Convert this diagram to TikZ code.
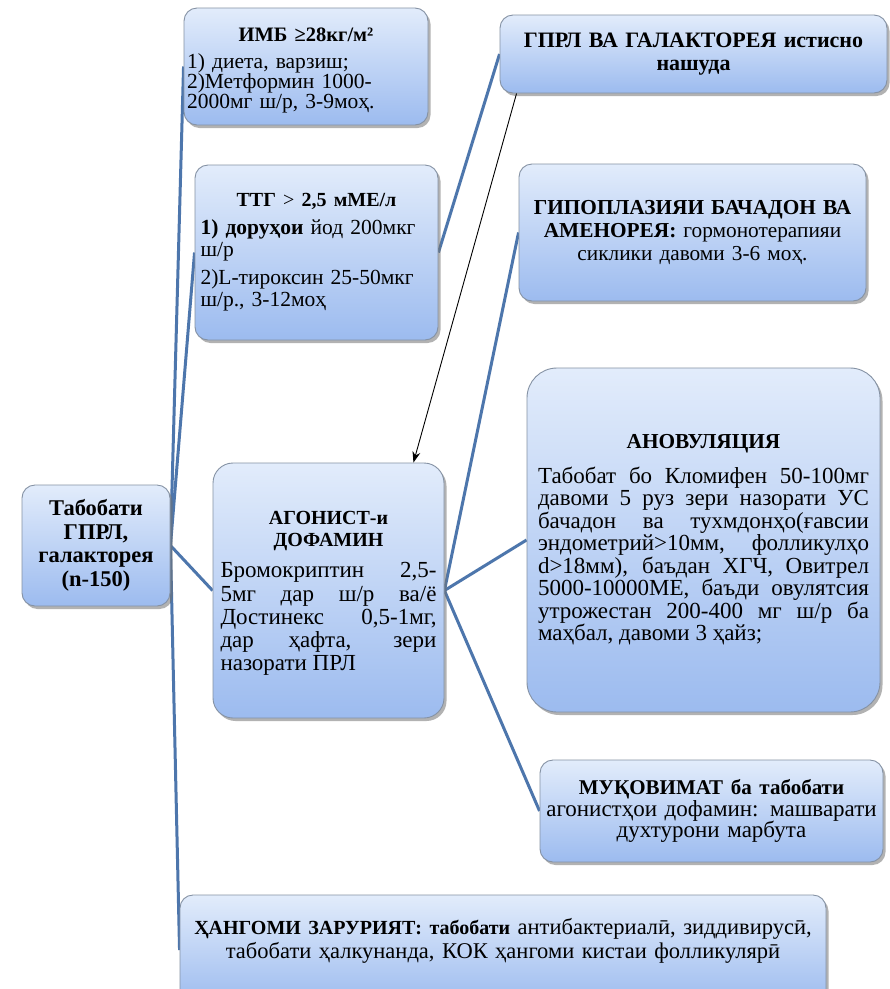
\documentclass[tikz,border=0pt]{standalone}
\usepackage{fontspec}
\setmainfont{Liberation Serif}
\usetikzlibrary{shadows,arrows.meta,backgrounds}
\definecolor{boxtop}{HTML}{E2ECFB}
\definecolor{boxbot}{HTML}{9CBBEF}
\definecolor{boxline}{HTML}{8592A4}
\definecolor{conn}{HTML}{4D76AC}
\newcommand{\padtop}[1]{\hrule height0pt\vspace{#1}}
\newcommand{\padbot}[1]{\par\vspace{#1}\hrule height0pt}
\tikzset{
  box/.style={draw=boxline, line width=0.9pt, rounded corners=13pt,
    top color=boxtop, bottom color=boxbot,
    drop shadow={shadow xshift=2.5pt, shadow yshift=-3pt, fill=black!55, opacity=0.55},
    inner sep=3pt, anchor=center},
  link/.style={draw=conn, line width=3pt},
}
\begin{document}
\begin{tikzpicture}[x=1pt,y=-1pt]
\useasboundingbox (0,0) rectangle (890,989);

% boxes
\node[box, minimum width=244pt, minimum height=117pt, text width=238pt, align=left,
  font={\fontsize{21.5}{20}\selectfont}] (imb) at (306,66.5)
  {\padtop{8pt}{\centering\fontsize{20.5}{20}\selectfont\bfseries ИМБ ≥28кг/м²\par}\vspace{7pt}%
   1) диета, варзиш;\\2)Метформин 1000-\\2000мг ш/р, 3-9моҳ.};

\node[box, minimum width=243pt, minimum height=175pt, text width=232pt, align=left,
  font={\fontsize{21.5}{22.5}\selectfont}] (ttg) at (316.5,252.5)
  {{\centering\fontsize{20}{22}\selectfont\textbf{ТТГ} > \textbf{2,5 мМЕ/л}\par}\vspace{5pt}%
   \textbf{1) доруҳои} йод 200мкг\\ш/р\par\vspace{5pt}%
   2)L-тироксин 25-50мкг\\ш/р., 3-12моҳ};

\node[box, minimum width=387pt, minimum height=78pt, text width=372pt, align=center,
  font={\fontsize{22}{23}\selectfont\bfseries}] (gprl) at (693.5,54)
  {ГПРЛ ВА ГАЛАКТОРЕЯ истисно\\нашуда};

\node[box, minimum width=347pt, minimum height=137pt, text width=337pt, align=center,
  font={\fontsize{21.3}{23}\selectfont}] (gipo) at (692.5,232.5)
  {\textbf{ГИПОПЛАЗИЯИ БАЧАДОН ВА}\\\textbf{АМЕНОРЕЯ:} гормонотерапияи\\сиклики давоми 3-6 моҳ.};

\node[box, minimum width=148pt, minimum height=121pt, text width=142pt, align=center,
  font={\fontsize{22.5}{23.5}\selectfont\bfseries}] (root) at (96,545.5)
  {Табобати\\ГПРЛ,\\галакторея\\(n-150)};

\node[box, rounded corners=20pt, minimum width=231pt, minimum height=255pt, text width=216pt, align=justify,
  font={\fontsize{23}{23.3}\selectfont}] (agon) at (328.5,590.5)
  {\padtop{6pt}{\centering\fontsize{20}{22}\selectfont\bfseries АГОНИСТ-и\\ДОФАМИН\par}\vspace{8pt}%
   Бромокриптин 2,5-\linebreak 5мг дар ш/р ва/ё\linebreak Достинекс 0,5-1мг,\linebreak дар ҳафта, зери\linebreak назорати ПРЛ};

\node[box, rounded corners=30pt, minimum width=353pt, minimum height=344pt, text width=331pt, align=justify,
  font={\fontsize{23}{22.5}\selectfont}] (anov) at (703.5,540)
  {{\centering\fontsize{21.3}{22}\selectfont\bfseries АНОВУЛЯЦИЯ\par}\vspace{12pt}%
   Табобат бо Кломифен 50-100мг\linebreak
   давоми 5 руз зери назорати УС\linebreak
   бачадон ва тухмдонҳо(ғавсии\linebreak
   эндометрий>10мм, фолликулҳо\linebreak
   d>18мм), баъдан ХГЧ, Овитрел\linebreak
   5000-10000МЕ, баъди овулятсия\linebreak
   утрожестан 200-400 мг ш/р ба\linebreak
   маҳбал, давоми 3 ҳайз;};

\node[box, minimum width=341pt, minimum height=102pt, text width=337pt, align=center,
  font={\fontsize{23}{21.8}\selectfont}] (muq) at (711.5,811)
  {{\fontsize{21}{21.8}\selectfont\textbf{МУҚОВИМАТ ба табобати}}\\агонистҳои дофамин: машварати\\духтурони марбута};

\node[box, minimum width=646pt, minimum height=110pt, text width=636pt, align=center,
  font={\fontsize{22.5}{24}\selectfont}] (hang) at (503,950)
  {{\fontsize{20}{24}\selectfont\textbf{ҲАНГОМИ ЗАРУРИЯТ: табобати}} антибактериалӣ, зиддивирусӣ,\\табобати ҳалкунанда, КОК ҳангоми кистаи фолликулярӣ\padbot{18pt}};

% connectors
\begin{pgfonlayer}{background}
\fill[white] (0,0) rectangle (890,989);
\draw[link] (root.east) -- (imb.west);
\draw[link] (root.east) -- (ttg.west);
\draw[link] (root.east) -- (agon.west);
\draw[link] (root.east) -- (hang.west);
\draw[link] (ttg.east) -- (gprl.west);
\draw[link] (agon.east) -- (gipo.west);
\draw[link] (agon.east) -- (anov.west);
\draw[link] (agon.east) -- (muq.west);
\end{pgfonlayer}
\draw[black, line width=0.9pt, -{Stealth[length=11pt,width=8pt]}]
  ([xshift=17pt]gprl.south west) -- ([xshift=-31pt]agon.north east);
\end{tikzpicture}
\end{document}
